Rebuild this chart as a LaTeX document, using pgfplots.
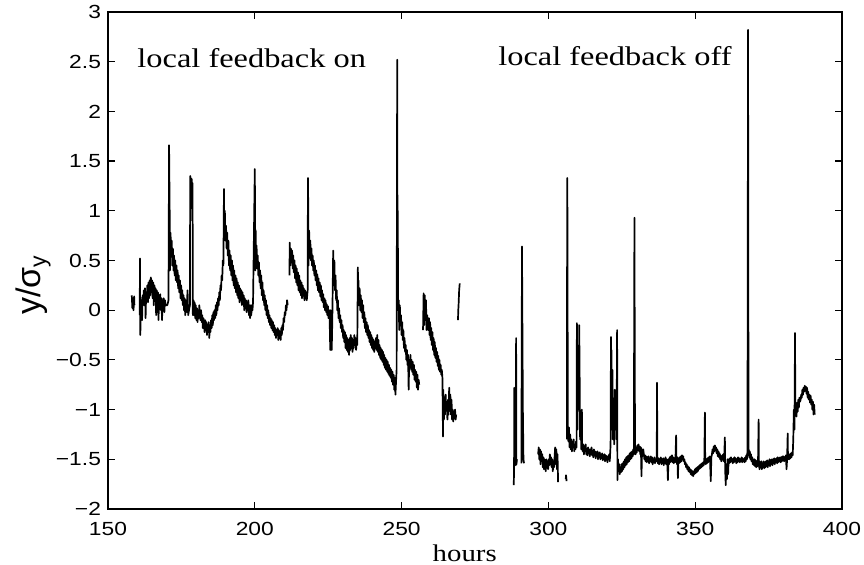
\documentclass[border=0pt]{standalone}
\usepackage{fontspec}
\setmainfont{Liberation Serif}
\setsansfont{Liberation Sans}
\usepackage{graphicx}
\usepackage{pgfplots}
\pgfplotsset{compat=1.18}
\newcommand{\tl}[1]{\scalebox{1.2}[1]{#1}}
\begin{document}
\begin{tikzpicture}
\begin{axis}[
  scale only axis, width=367pt, height=248.5pt,
  xmin=150, xmax=400, ymin=-2, ymax=3,
  xtick={150,200,250,300,350,400},
  xticklabels={\tl{150},\tl{200},\tl{250},\tl{300},\tl{350},\tl{400}},
  ytick={-2,-1.5,-1,-0.5,0,0.5,1,1.5,2,2.5,3},
  yticklabels={\tl{−2},\tl{−1.5},\tl{−1},\tl{−0.5},\tl{0},\tl{0.5},\tl{1},\tl{1.5},\tl{2},\tl{2.5},\tl{3}},
  tick align=inside, major tick length=3.5pt,
  axis line style={line width=0.8pt},
  tick style={line width=0.6pt, black},
  tick label style={font=\sffamily\fontsize{9.5}{11}\selectfont},
  xticklabel style={yshift=-3pt},
  xlabel={\scalebox{1.2}[1]{\fontsize{12}{14}\selectfont hours}},
  xlabel style={at={(axis description cs:0.486,-0.0885)}, anchor=center},
  ylabel={\sffamily\fontsize{17}{20}\selectfont y/σ\raisebox{-0.3ex}{\fontsize{11.5}{14}\selectfont y}},
  ylabel style={at={(axis description cs:-0.102,0.45)}, anchor=center},
  trace/.style={black, line width=0.85pt, line join=round, mark=none},
]
% ---- local feedback on ----
\addplot[trace] coordinates {(158.1,0.15)(158.3,0.02)(158.5,0.12)(158.7,0.0)(158.9,0.14)(159.0,0.05)};
\addplot[trace] coordinates {(160.8,-0.05)(160.9,0.52)(161.0,-0.25)(161.2,0.0)(161.4,0.1)(161.6,-0.1)(161.8,0.15)(162.0,0.05)(162.2,0.2)(162.4,0.05)(162.6,0.22)(162.8,-0.08)(163.0,0.18)(163.2,0.1)(163.4,0.25)(163.6,0.08)(163.8,0.28)(164.0,0.12)(164.2,0.3)(164.4,0.15)(164.6,0.33)(164.8,0.18)(165.0,0.3)(165.2,0.12)(165.4,0.28)(165.6,0.05)(165.8,0.25)(166.0,0.1)(166.2,0.22)(166.4,-0.05)(166.6,0.2)(166.8,0.05)(167.0,0.18)(167.2,-0.1)(167.4,0.15)(167.6,0.02)(167.8,0.16)(168.0,0.0)(168.2,0.12)(168.4,-0.1)(168.6,0.1)(168.8,0.0)(169.0,0.12)(169.2,-0.02)(169.4,0.1)(169.6,0.05)(170.2,0.05)(170.6,0.1)
(170.8,1.66)(171.0,1.0)(171.1,0.4)(171.3,0.78)(171.5,0.55)(171.7,0.7)(171.9,0.45)(172.1,0.62)(172.3,0.4)(172.5,0.55)(172.7,0.35)(172.9,0.5)(173.1,0.3)(173.3,0.45)(173.5,0.28)(173.7,0.4)(173.9,0.22)(174.1,0.35)(174.3,0.18)(174.5,0.3)(174.7,0.12)(174.9,0.25)(175.1,0.1)(175.3,0.2)(175.5,0.05)(175.7,0.15)(175.9,0.0)(176.1,0.12)(176.3,-0.05)(176.5,0.1)(176.7,-0.02)(176.9,0.08)(177.1,0.2)(177.3,-0.05)(177.9,0.05)
(178.0,1.35)(178.3,1.3)(178.5,1.32)(178.7,0.9)(178.8,1.28)(178.9,-0.05)(179.1,0.1)(179.3,-0.05)(179.5,0.08)(179.7,-0.08)(179.9,0.05)(180.1,-0.1)(180.3,0.02)(180.5,-0.12)(180.7,0.0)(180.9,-0.08)(181.1,0.05)(181.3,-0.05)(181.5,-0.1)(181.7,0.0)(181.9,-0.12)(182.1,-0.05)(182.3,-0.18)(182.5,-0.08)(182.7,-0.15)(182.9,-0.22)(183.1,-0.1)(183.3,-0.2)(183.5,-0.12)(183.7,-0.25)(183.9,-0.15)(184.1,-0.22)(184.3,-0.12)(184.5,-0.28)(184.7,-0.15)(184.9,-0.22)(185.1,-0.1)(185.3,-0.18)(185.5,-0.05)(185.7,-0.15)(185.9,-0.02)(186.1,-0.1)(186.3,0.0)(186.5,-0.08)(186.7,0.05)(186.9,-0.05)(187.1,0.08)(187.3,0.0)(187.5,0.12)(187.7,0.05)(187.9,0.18)(188.1,0.1)(188.3,0.25)(188.5,0.2)(188.7,0.35)(188.9,0.3)(189.1,0.5)(189.3,0.45)
(189.5,1.22)(189.6,0.85)(189.8,1.0)(190.0,0.7)(190.2,0.85)(190.4,0.62)(190.6,0.78)(190.8,0.55)(191.0,0.7)(191.2,0.45)(191.4,0.6)(191.6,0.4)(191.8,0.55)(192.0,0.35)(192.2,0.5)(192.4,0.3)(192.6,0.45)(192.8,0.25)(193.0,0.4)(193.2,0.22)(193.4,0.35)(193.6,0.18)(193.8,0.32)(194.0,0.15)(194.2,0.28)(194.4,0.12)(194.6,0.25)(194.8,0.08)(195.0,0.22)(195.2,0.1)(195.4,0.2)(195.6,0.05)(195.8,0.18)(196.0,0.08)(196.2,0.15)(196.4,0.0)(196.6,0.12)(196.8,0.02)(197.0,0.1)(197.2,-0.02)(197.4,0.08)(197.6,0.0)(197.8,0.1)(198.0,-0.05)(198.2,0.05)(198.4,-0.08)(198.6,0.05)(198.8,-0.05)(199.0,0.05)(199.2,0.0)(199.4,0.08)
(200.0,1.42)(200.2,0.4)(200.3,0.8)(200.4,0.5)(200.6,0.65)(200.8,0.42)(201.0,0.55)(201.2,0.35)(201.4,0.48)(201.6,0.28)(201.8,0.4)(202.0,0.22)(202.2,0.35)(202.4,0.15)(202.6,0.28)(202.8,0.1)(203.0,0.2)(203.2,0.05)(203.4,0.15)(203.6,0.0)(203.8,0.1)(204.0,-0.05)(204.2,0.05)(204.4,-0.08)(204.6,0.0)(204.8,-0.12)(205.0,-0.05)(205.2,-0.15)(205.4,-0.08)(205.6,-0.18)(205.8,-0.1)(206.0,-0.2)(206.2,-0.12)(206.4,-0.22)(206.6,-0.15)(206.8,-0.25)(207.0,-0.18)(207.2,-0.28)(207.4,-0.2)(207.6,-0.25)(207.8,-0.18)(208.0,-0.3)(208.2,-0.2)(208.4,-0.28)(208.6,-0.22)(208.8,-0.3)(209.0,-0.18)(209.2,-0.25)(209.4,-0.15)(209.6,-0.2)(209.8,-0.08)(210.0,-0.12)(210.2,-0.02)(210.4,-0.05)(210.6,0.05)(210.8,0.0)(211.0,0.1)(211.2,0.05)};
\addplot[trace] coordinates {(211.8,0.35)(211.9,0.68)(212.1,0.45)(212.3,0.62)(212.5,0.5)(212.7,0.6)(212.9,0.42)(213.1,0.55)(213.3,0.38)(213.5,0.5)(213.7,0.32)(213.9,0.45)(214.1,0.28)(214.3,0.42)(214.5,0.25)(214.7,0.38)(214.9,0.2)(215.1,0.35)(215.3,0.18)(215.5,0.3)(215.7,0.15)(215.9,0.28)(216.1,0.12)(216.3,0.25)(216.5,0.15)(216.7,0.22)(216.9,0.1)(217.1,0.2)(217.3,0.12)(217.5,0.18)(217.7,0.1)(218.0,0.2)
(218.1,1.33)(218.2,1.05)(218.3,0.45)(218.5,0.8)(218.7,0.55)(218.9,0.7)(219.1,0.5)(219.3,0.62)(219.5,0.45)(219.7,0.55)(219.9,0.4)(220.1,0.5)(220.3,0.35)(220.5,0.45)(220.7,0.3)(220.9,0.4)(221.1,0.25)(221.3,0.36)(221.5,0.2)(221.7,0.32)(221.9,0.18)(222.1,0.28)(222.3,0.14)(222.5,0.25)(222.7,0.1)(222.9,0.2)(223.1,0.08)(223.3,0.16)(223.5,0.03)(223.7,0.12)(223.9,0.0)(224.1,0.1)(224.3,-0.02)(224.5,0.06)(224.7,-0.05)(224.9,0.04)(225.1,-0.08)(225.3,0.0)(225.5,-0.1)(225.7,-0.4)(225.8,0.0)(226.0,-0.05)(226.2,-0.4)(226.4,-0.1)
(226.7,0.6)(226.9,0.25)(227.1,0.5)(227.3,0.2)(227.5,0.35)(227.7,0.1)(227.9,0.2)(228.1,0.0)(228.3,0.1)(228.5,-0.08)(228.7,0.02)(228.9,-0.12)(229.1,-0.05)(229.3,-0.18)(229.5,-0.1)(229.7,-0.22)(229.9,-0.15)(230.1,-0.28)(230.3,-0.2)(230.5,-0.32)(230.7,-0.22)(230.9,-0.38)(231.1,-0.25)(231.3,-0.4)(231.5,-0.28)(231.7,-0.42)(231.9,-0.3)(232.1,-0.45)(232.3,-0.28)(232.5,-0.4)(232.7,-0.25)(232.9,-0.38)(233.1,-0.28)(233.3,-0.42)(233.5,-0.3)(233.7,-0.38)(233.9,-0.25)(234.1,-0.35)(234.3,-0.28)(234.5,-0.4)(234.7,-0.3)(234.9,-0.35)
(235.1,0.43)(235.2,0.1)(235.3,0.3)(235.5,0.05)(235.7,0.22)(235.9,0.0)(236.1,0.15)(236.3,-0.02)(236.5,0.1)(236.7,-0.08)(236.9,0.05)(237.1,-0.12)(237.3,-0.02)(237.5,-0.18)(237.7,-0.08)(237.9,-0.22)(238.1,-0.12)(238.3,-0.25)(238.5,-0.15)(238.7,-0.28)(238.9,-0.2)(239.1,-0.32)(239.3,-0.22)(239.5,-0.35)(239.7,-0.25)(239.9,-0.38)(240.1,-0.28)(240.3,-0.4)(240.5,-0.3)(240.7,-0.42)(240.9,-0.32)(241.1,-0.38)(241.3,-0.28)(241.5,-0.4)(241.7,-0.25)(241.9,-0.42)(242.1,-0.3)(242.3,-0.45)(242.5,-0.35)(242.7,-0.48)(242.9,-0.38)(243.1,-0.5)(243.3,-0.4)(243.5,-0.52)(243.7,-0.42)(243.9,-0.55)(244.1,-0.45)(244.3,-0.58)(244.5,-0.48)(244.7,-0.6)(244.9,-0.5)(245.1,-0.62)(245.3,-0.52)(245.5,-0.64)(245.7,-0.55)(245.9,-0.66)(246.1,-0.58)(246.3,-0.68)(246.5,-0.6)(246.7,-0.72)(246.9,-0.62)(247.1,-0.75)(247.3,-0.65)(247.5,-0.8)(247.7,-0.68)(247.9,-0.85)(248.1,-0.72)(248.3,-0.6)
(248.5,2.52)(248.6,0.5)(248.7,1.0)(248.8,0.0)(249.0,0.1)(249.2,-0.2)(249.4,0.05)(249.6,-0.15)(249.8,-0.05)(250.0,-0.25)(250.2,-0.12)(250.4,-0.3)(250.6,-0.2)(250.8,-0.38)(251.0,-0.28)(251.2,-0.42)(251.4,-0.35)(251.6,-0.5)(251.8,-0.4)(252.0,-0.55)(252.2,-0.45)(252.4,-0.8)(252.6,-0.5)(252.8,-0.6)(253.0,-0.45)(253.2,-0.58)(253.4,-0.5)(253.6,-0.62)(253.8,-0.52)(254.0,-0.65)(254.2,-0.55)(254.4,-0.7)(254.6,-0.6)(254.8,-0.72)(255.0,-0.62)(255.2,-0.78)(255.4,-0.65)(255.6,-0.8)(255.8,-0.7)(256.0,-0.75)};
\addplot[trace] coordinates {(257.3,-0.2)(257.5,0.17)(257.7,-0.15)(257.9,0.15)(258.1,-0.1)(258.3,0.1)(258.5,-0.2)(258.7,-0.05)(258.9,-0.12)(259.1,-0.2)(259.3,-0.08)(259.5,-0.25)(259.7,-0.12)(259.9,-0.3)(260.1,-0.18)(260.3,-0.35)(260.5,-0.22)(260.7,-0.4)(260.9,-0.28)(261.1,-0.45)(261.3,-0.32)(261.5,-0.48)(261.7,-0.38)(261.9,-0.52)(262.1,-0.42)(262.3,-0.56)(262.5,-0.46)(262.7,-0.6)(262.9,-0.5)(263.1,-0.62)(263.3,-0.55)(263.5,-0.65)(263.7,-0.6)(263.9,-0.68)(264.1,-1.27)(264.2,-0.8)(264.4,-1.1)(264.6,-0.9)(264.8,-1.05)(265.0,-0.85)(265.2,-1.0)(265.4,-0.95)(265.6,-1.1)(265.8,-0.9)(266.0,-1.05)(266.2,-0.78)(266.4,-1.0)(266.6,-0.85)(266.8,-1.05)(267.0,-0.9)(267.2,-1.1)(267.4,-1.0)(267.6,-1.12)(267.8,-1.02)(268.0,-1.08)(268.2,-1.0)(268.4,-1.1)(268.6,-1.05)};
\addplot[trace] coordinates {(269.2,-0.1)(269.3,0.0)(269.4,0.05)(269.6,0.2)(269.8,0.27)};
% ---- local feedback off ----
\addplot[trace] coordinates {(288.2,-1.76)(288.3,-1.6)(288.4,-0.78)(288.5,-0.9)(288.7,-0.8)(288.9,-1.56)(289.0,-0.28)(289.1,-1.55)(289.3,-1.5)};
\addplot[trace] coordinates {(290.8,-1.54)(291.0,0.64)(291.3,-1.0)(291.5,-1.5)(291.7,-1.54)};
\addplot[trace] coordinates {(296.5,-1.45)(296.7,-1.38)(296.9,-1.5)(297.1,-1.4)(297.3,-1.55)(297.5,-1.42)(297.7,-1.52)(297.9,-1.45)(298.1,-1.58)(298.3,-1.48)(298.5,-1.6)(298.7,-1.5)(298.9,-1.56)(299.1,-1.62)(299.3,-1.5)(299.5,-1.58)(299.7,-1.52)(299.9,-1.6)(300.1,-1.5)(300.3,-1.56)(300.5,-1.45)(300.7,-1.55)(300.9,-1.48)(301.1,-1.58)(301.3,-1.5)(301.5,-1.62)(301.7,-1.52)(301.9,-1.58)(302.1,-1.48)(302.3,-1.38)(302.5,-1.55)(302.7,-1.4)(302.9,-1.6)(303.1,-1.45)(303.3,-1.73)};
\addplot[trace] coordinates {(305.9,-1.7)(306.0,-1.66)(306.2,-1.72)};
\addplot[trace] coordinates {(306.3,-1.3)(306.4,1.33)(306.5,0.9)(306.6,-1.2)(306.8,-1.32)(307.0,-1.18)(307.2,-1.38)(307.4,-1.25)(307.6,-1.4)(307.8,-1.3)(308.0,-1.42)(308.2,-1.35)(308.4,-1.38)(308.6,-1.3)(308.8,-1.42)(309.0,-1.35)(309.2,-1.4)(309.4,-1.32)(309.6,-1.38)(309.7,-0.13)(309.8,-0.4)(309.9,-1.2)(310.1,-0.6)(310.3,-1.0)(310.5,-0.15)(310.7,-0.9)(310.8,-1.3)(311.0,-1.05)(311.2,-1.4)(311.4,-1.0)(311.5,-1.38)(311.7,-1.42)(311.9,-1.35)(312.1,-1.45)(312.3,-1.38)(312.5,-1.42)(312.7,-1.35)(312.9,-1.45)(313.1,-1.4)(313.3,-1.46)(313.5,-1.38)(313.7,-1.44)(313.9,-1.4)(314.1,-1.47)(314.3,-1.4)(314.5,-1.45)(314.7,-1.38)(314.9,-1.46)(315.1,-1.42)(315.3,-1.48)(315.5,-1.4)(315.7,-1.46)(315.9,-1.42)(316.1,-1.49)(316.3,-1.43)(316.5,-1.47)(316.7,-1.42)(316.9,-1.5)(317.1,-1.44)(317.3,-1.48)(317.5,-1.43)(317.7,-1.5)(317.9,-1.45)(318.1,-1.49)(318.3,-1.44)(318.5,-1.51)(318.7,-1.46)(318.9,-1.5)(319.1,-1.45)(319.3,-1.52)(319.5,-1.46)(319.7,-1.5)(319.9,-1.47)(320.1,-1.53)(320.3,-1.47)(320.5,-1.5)(320.7,-1.45)(320.9,-1.52)(321.1,-1.4)
(321.2,-1.3)(321.3,-0.27)(321.4,-1.0)(321.5,-0.4)(321.6,-1.2)(321.8,-0.6)(322.0,-1.3)(322.2,-0.9)(322.4,-1.35)(322.6,-0.8)(322.8,-1.2)(323.0,-0.95)(323.2,-1.3)(323.4,-0.2)(323.5,-1.71)(323.7,-1.5)(323.9,-1.62)(324.1,-1.55)(324.3,-1.65)(324.5,-1.58)(324.7,-1.63)(324.9,-1.55)(325.1,-1.62)(325.3,-1.54)(325.5,-1.6)(325.7,-1.52)(325.9,-1.58)(326.1,-1.5)(326.3,-1.56)(326.5,-1.48)(326.7,-1.55)(326.9,-1.47)(327.1,-1.53)(327.3,-1.46)(327.5,-1.52)(327.7,-1.44)(327.9,-1.5)(328.1,-1.43)(328.3,-1.49)(328.5,-1.42)(328.7,-1.47)(328.9,-1.4)(329.1,-1.45)
(329.3,0.93)(329.4,-0.3)(329.5,-1.4)(329.7,-1.45)(329.9,-1.38)(330.1,-1.43)(330.3,-1.36)(330.5,-1.4)(330.7,-1.35)(330.9,-1.42)(331.1,-1.37)(331.3,-1.45)(331.5,-1.38)(331.7,-1.67)(331.9,-1.4)(332.1,-1.45)(332.3,-1.4)(332.5,-1.45)(332.7,-1.5)(332.9,-1.46)(333.1,-1.52)(333.3,-1.47)(333.5,-1.53)(333.7,-1.48)(333.9,-1.52)(334.1,-1.47)(334.3,-1.54)(334.5,-1.49)(334.7,-1.52)(334.9,-1.47)(335.1,-1.53)(335.3,-1.48)(335.5,-1.55)(335.7,-1.5)(335.9,-1.53)(336.1,-1.48)(336.3,-1.54)(336.5,-1.5)(336.7,-1.52)(336.9,-1.48)(337.0,-0.73)(337.1,-1.5)(337.3,-1.54)(337.5,-1.49)(337.7,-1.55)(337.9,-1.5)(338.1,-1.53)(338.3,-1.48)(338.5,-1.55)(338.7,-1.5)(338.9,-1.54)(339.1,-1.49)(339.3,-1.56)(339.5,-1.5)(339.7,-1.53)(339.9,-1.48)(340.1,-1.55)(340.3,-1.5)(340.5,-1.54)(340.7,-1.71)(340.9,-1.5)(341.1,-1.55)(341.3,-1.48)(341.5,-1.53)(341.7,-1.47)(341.9,-1.52)(342.1,-1.46)(342.3,-1.53)(342.5,-1.48)(342.7,-1.54)(342.9,-1.49)(343.1,-1.53)(343.3,-1.47)(343.5,-1.26)(343.6,-1.5)(343.8,-1.55)(344.0,-1.48)(344.1,-1.69)(344.3,-1.5)(344.5,-1.54)(344.7,-1.48)(344.9,-1.53)(345.1,-1.47)(345.3,-1.52)(345.5,-1.46)(345.7,-1.5)(345.9,-1.47)(346.1,-1.52)(346.3,-1.5)(346.5,-1.55)
(346.7,-1.53)(346.9,-1.58)(347.1,-1.55)(347.3,-1.6)(347.5,-1.57)(347.7,-1.62)(347.9,-1.58)(348.1,-1.63)(348.3,-1.6)(348.5,-1.65)(348.7,-1.61)(348.9,-1.66)(349.1,-1.62)(349.3,-1.67)(349.5,-1.62)(349.7,-1.65)(349.9,-1.6)(350.1,-1.64)(350.3,-1.59)(350.5,-1.63)(350.7,-1.58)(350.9,-1.62)(351.1,-1.57)(351.3,-1.6)(351.5,-1.56)(351.7,-1.59)(351.9,-1.55)(352.1,-1.58)(352.3,-1.54)(352.5,-1.57)(352.7,-1.53)(352.9,-1.56)(353.1,-1.52)(353.3,-1.03)(353.4,-1.5)(353.6,-1.55)(353.8,-1.5)(354.0,-1.54)(354.2,-1.49)(354.4,-1.53)(354.6,-1.48)(354.8,-1.52)(355.0,-1.47)(355.3,-1.72)(355.5,-1.48)(355.7,-1.45)(355.9,-1.4)(356.1,-1.44)(356.3,-1.37)(356.5,-1.42)(356.7,-1.36)(356.9,-1.41)(357.1,-1.38)(357.3,-1.44)(357.5,-1.4)(357.7,-1.47)(357.9,-1.42)(358.1,-1.48)(358.3,-1.44)(358.5,-1.5)(358.7,-1.46)(358.9,-1.52)(359.1,-1.47)(359.3,-1.5)(359.5,-1.45)(359.7,-1.52)(359.9,-1.46)(360.1,-1.28)(360.2,-1.6)(360.4,-1.76)(360.6,-1.55)(360.8,-1.7)(361.0,-1.5)(361.2,-1.65)(361.4,-1.5)(361.6,-1.54)(361.8,-1.49)(362.0,-1.53)(362.2,-1.48)(362.4,-1.52)(362.6,-1.5)(362.8,-1.54)(363.0,-1.49)(363.2,-1.53)(363.4,-1.48)(363.6,-1.52)(363.8,-1.49)(364.0,-1.54)(364.2,-1.5)(364.4,-1.53)(364.6,-1.48)(364.8,-1.52)(365.0,-1.49)(365.2,-1.53)(365.4,-1.5)(365.6,-1.52)(365.8,-1.48)(366.0,-1.53)(366.2,-1.49)(366.4,-1.52)(366.6,-1.5)(366.8,-1.53)(367.0,-1.48)(367.2,-1.52)(367.4,-1.46)(367.6,-1.5)(367.8,-1.42)
(368.0,2.82)(368.1,0.0)(368.2,-1.4)(368.4,-1.48)(368.6,-1.42)(368.8,-1.5)(369.0,-1.45)(369.2,-1.52)(369.4,-1.48)(369.6,-1.55)(369.8,-1.5)(370.0,-1.56)(370.2,-1.5)(370.4,-1.57)(370.6,-1.51)(370.8,-1.58)(371.0,-1.52)(371.2,-1.57)(371.4,-1.51)(371.6,-1.1)(371.7,-1.55)(371.9,-1.6)(372.1,-1.53)(372.3,-1.58)(372.5,-1.52)(372.7,-1.6)(372.9,-1.54)(373.1,-1.58)(373.3,-1.52)(373.5,-1.59)(373.7,-1.53)(373.9,-1.58)(374.1,-1.52)(374.3,-1.57)(374.5,-1.51)(374.7,-1.58)(374.9,-1.52)(375.1,-1.56)(375.3,-1.5)(375.5,-1.57)(375.7,-1.51)(375.9,-1.55)(376.1,-1.5)(376.3,-1.56)(376.5,-1.5)(376.7,-1.54)(376.9,-1.49)(377.1,-1.55)(377.3,-1.5)(377.5,-1.53)(377.7,-1.49)(377.9,-1.54)(378.1,-1.48)(378.3,-1.53)(378.5,-1.49)(378.7,-1.52)(378.9,-1.48)(379.1,-1.53)(379.3,-1.48)(379.5,-1.52)(379.7,-1.47)(379.9,-1.51)(380.1,-1.47)(380.3,-1.52)(380.5,-1.48)(380.7,-1.51)(380.9,-1.46)(381.1,-1.6)(381.3,-1.5)(381.5,-1.24)(381.6,-1.5)(381.8,-1.46)(382.0,-1.5)(382.2,-1.45)(382.4,-1.49)(382.6,-1.44)(382.8,-1.48)(383.0,-1.43)(383.2,-1.46)
(383.4,-1.3)(383.6,-1.0)(383.8,-1.2)(384.0,-0.23)(384.1,-1.05)(384.3,-0.95)(384.5,-1.07)(384.7,-0.93)(384.9,-1.02)(385.1,-0.9)(385.3,-0.98)(385.5,-0.88)(385.7,-0.92)(385.9,-0.9)(386.1,-0.85)(386.3,-0.88)(386.5,-0.8)(386.7,-0.85)(386.9,-0.78)(387.1,-0.82)(387.3,-0.76)(387.5,-0.8)(387.7,-0.77)(387.9,-0.84)(388.1,-0.78)(388.3,-0.88)(388.5,-0.82)(388.7,-0.9)(388.9,-0.85)(389.1,-0.93)(389.3,-0.86)(389.5,-0.95)(389.7,-0.9)(389.9,-1.0)(390.1,-0.92)(390.3,-1.05)(390.5,-0.95)(390.7,-1.05)};
\node[anchor=west, inner sep=0pt] at (axis cs:159.9,2.54) {\scalebox{1.2}[1]{\fontsize{13.5}{16}\selectfont local feedback on}};
\node[anchor=west, inner sep=0pt] at (axis cs:282.8,2.56) {\scalebox{1.2}[1]{\fontsize{13.5}{16}\selectfont local feedback off}};
\end{axis}
\pgfresetboundingbox
\path[use as bounding box] ([xshift=-54pt,yshift=-28pt]current axis.south west) rectangle ([xshift=11pt,yshift=6pt]current axis.north east);
\end{tikzpicture}
\end{document}
